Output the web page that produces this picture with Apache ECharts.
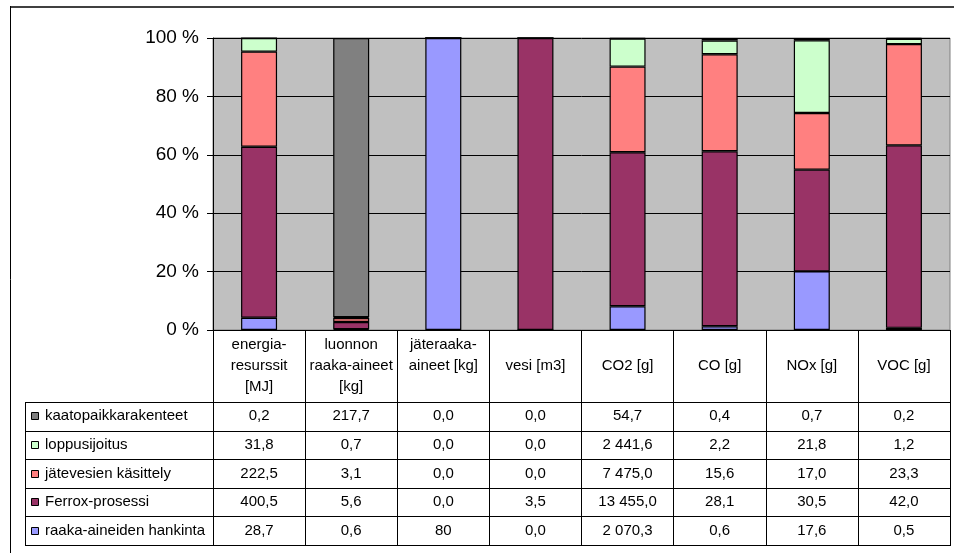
<!DOCTYPE html>
<html>
<head>
<meta charset="utf-8">
<title>Ympäristökuormitusten jakautuminen</title>
<script src="https://cdn.jsdelivr.net/npm/echarts@6/dist/echarts.min.js"></script>
<style>
  html, body { margin: 0; padding: 0; background: #fff; }
  #chart { width: 954px; height: 553px; }
</style>
</head>
<body>
<div id="chart"></div>
<script>
// Impact categories (columns)
const categories = ['energia-resurssit [MJ]', 'luonnon raaka-aineet [kg]', 'jäteraaka-aineet [kg]', 'vesi [m3]', 'CO2 [g]', 'CO [g]', 'NOx [g]', 'VOC [g]'];
// Header text as wrapped in the table head
const headerLabels = ['energia-\nresurssit\n[MJ]', 'luonnon\nraaka-aineet\n[kg]', 'jäteraaka-\naineet [kg]\n ', 'vesi [m3]', 'CO2 [g]', 'CO [g]', 'NOx [g]', 'VOC [g]'];

// Life-cycle stages, bottom of the stack first
const stageNames = ['raaka-aineiden hankinta', 'Ferrox-prosessi', 'jätevesien käsittely', 'loppusijoitus', 'kaatopaikkarakenteet'];

// Values per stage, as printed in the data table
const raakaAineidenHankinta = ['28,7', '0,6', '80', '0,0', '2 070,3', '0,6', '17,6', '0,5'];
const ferroxProsessi = ['400,5', '5,6', '0,0', '3,5', '13 455,0', '28,1', '30,5', '42,0'];
const jatevesienKasittely = ['222,5', '3,1', '0,0', '0,0', '7 475,0', '15,6', '17,0', '23,3'];
const loppusijoitus = ['31,8', '0,7', '0,0', '0,0', '2 441,6', '2,2', '21,8', '1,2'];
const kaatopaikkarakenteet = ['0,2', '217,7', '0,0', '0,0', '54,7', '0,4', '0,7', '0,2'];

const yTicks = [0, 20, 40, 60, 80, 100];

const stageValues = [raakaAineidenHankinta, ferroxProsessi, jatevesienKasittely, loppusijoitus, kaatopaikkarakenteet];
const stageColors = ['#9999FF', '#993366', '#FF8080', '#CCFFCC', '#808080'];

const FONT = '"Liberation Sans", Arial, sans-serif';
const TABLE_FONT_SIZE = 15;

const parseFi = s => parseFloat(s.replace(/\s/g, '').replace(',', '.'));
const numeric = stageValues.map(arr => arr.map(parseFi));
const totals = categories.map((_, c) => numeric.reduce((sum, arr) => sum + arr[c], 0));

const chart = echarts.init(document.getElementById('chart'), null, { renderer: 'canvas' });

const series = stageNames.map((name, s) => ({
  name: name,
  type: 'bar',
  stack: 'share',
  barWidth: 36,
  itemStyle: { color: stageColors[s], borderColor: '#000', borderWidth: 1.2 },
  emphasis: { disabled: true },
  data: numeric[s].map((v, c) => totals[c] ? v / totals[c] * 100 : 0)
}));

const gridBottomY = 330;
const tableBottomY = 545;

chart.setOption({
  animation: false,
  backgroundColor: '#fff',
  grid: {
    left: 213, right: 4, top: 38, bottom: 553 - gridBottomY,
    show: true, backgroundColor: '#C0C0C0', borderColor: '#808080', borderWidth: 1
  },
  xAxis: {
    type: 'category',
    data: categories,
    boundaryGap: true,
    axisLine: { show: true, lineStyle: { color: '#000', width: 1 } },
    axisTick: { show: true, length: tableBottomY - gridBottomY, lineStyle: { color: '#000', width: 1 } },
    axisLabel: {
      interval: 0,
      margin: 36,
      verticalAlign: 'middle',
      lineHeight: 21,
      fontSize: TABLE_FONT_SIZE,
      fontFamily: FONT,
      color: '#000',
      formatter: (val, idx) => headerLabels[idx]
    },
    splitLine: { show: false }
  },
  yAxis: {
    type: 'value',
    min: yTicks[0],
    max: yTicks[yTicks.length - 1],
    interval: yTicks[1] - yTicks[0],
    axisLine: { show: true, lineStyle: { color: '#000', width: 1 } },
    axisTick: { show: true, length: 6, lineStyle: { color: '#000' } },
    axisLabel: { formatter: '{value} %', fontSize: 19, fontFamily: FONT, color: '#000', margin: 14 },
    splitLine: { show: true, lineStyle: { color: '#000', width: 1 } }
  },
  series: series
});

// Data table below the plot, aligned to the category axis
function drawTable() {
  const colCenters = categories.map((_, i) => chart.convertToPixel({ xAxisIndex: 0 }, i));
  const half = (colCenters[1] - colCenters[0]) / 2;
  const tableLeft = 25;
  const tableRight = colCenters[colCenters.length - 1] + half;
  const headBottom = 402;
  const rowH = (tableBottomY - headBottom) / stageNames.length;
  const els = [];

  // Chart frame
  els.push({ type: 'line', shape: { x1: 10, y1: 7, x2: 954, y2: 7 }, style: { stroke: '#404040', lineWidth: 2 }, z: 100 });
  els.push({ type: 'line', shape: { x1: 10.5, y1: 6, x2: 10.5, y2: 553 }, style: { stroke: '#000', lineWidth: 1 }, z: 100 });

  // Right edge of the table head
  els.push({ type: 'line', shape: { x1: Math.round(tableRight) + 0.5, y1: gridBottomY, x2: Math.round(tableRight) + 0.5, y2: tableBottomY }, style: { stroke: '#000', lineWidth: 1 }, z: 100 });
  // Legend column left edge
  els.push({ type: 'line', shape: { x1: tableLeft + 0.5, y1: headBottom, x2: tableLeft + 0.5, y2: tableBottomY }, style: { stroke: '#000', lineWidth: 1 }, z: 100 });

  // Row rules
  for (let r = 0; r <= stageNames.length; r++) {
    const y = Math.round(headBottom + r * rowH) + 0.5;
    els.push({ type: 'line', shape: { x1: tableLeft, y1: y, x2: Math.round(tableRight) + 1, y2: y }, style: { stroke: '#000', lineWidth: 1 }, z: 100 });
  }

  // Rows: top row is the top of the stack
  for (let r = 0; r < stageNames.length; r++) {
    const s = stageNames.length - 1 - r;
    const cy = headBottom + r * rowH + rowH / 2;
    els.push({
      type: 'rect',
      shape: { x: 31.5, y: Math.round(cy - 4) + 0.5, width: 7, height: 7 },
      style: { fill: stageColors[s], stroke: '#000', lineWidth: 1 }, z: 100
    });
    els.push({
      type: 'text', x: 45, y: cy,
      style: { text: stageNames[s], fontSize: TABLE_FONT_SIZE, fontFamily: FONT, fill: '#000', textAlign: 'left', textVerticalAlign: 'middle' },
      z: 100
    });
    stageValues[s].forEach((txt, c) => {
      els.push({
        type: 'text', x: colCenters[c], y: cy,
        style: { text: txt, fontSize: TABLE_FONT_SIZE, fontFamily: FONT, fill: '#000', textAlign: 'center', textVerticalAlign: 'middle' },
        z: 100
      });
    });
  }
  chart.setOption({ graphic: { elements: els } });
}
drawTable();
</script>
</body>
</html>
